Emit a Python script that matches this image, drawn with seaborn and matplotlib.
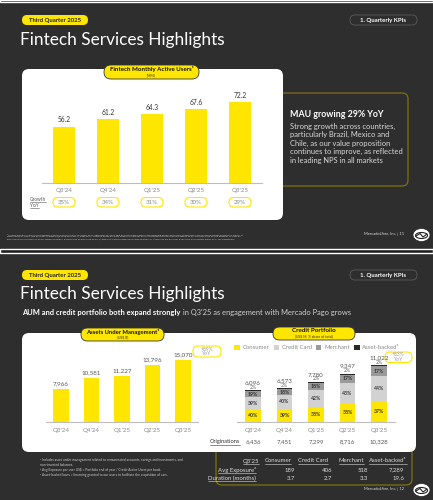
import numpy as np
import pandas as pd
import seaborn as sns
import matplotlib.pyplot as plt
from matplotlib.patches import FancyBboxPatch, Ellipse, Patch, Rectangle

# data
quarters = ["Q3'24", "Q4'24", "Q1'25", "Q2'25", "Q3'25"]
mau = [56.2, 61.2, 64.3, 67.6, 72.2]
mau_growth = ["35%", "34%", "31%", "30%", "29%"]
aum = [7966, 10581, 11227, 13796, 15070]
credit_total = [6096, 6573, 7780, 9347, 11022]
consumer_pct = [40, 39, 38, 38, 37]
card_pct = [39, 40, 42, 43, 44]
merchant_pct = [19, 18, 18, 17, 17]
asset_pct = [2, 2, 2, 2, 2]
originations = [6436, 7451, 7299, 8716, 10328]
table_cols = ["Q3'25", "Consumer", "Credit Card", "Merchant", "Asset-backed³"]
table_rows = ["Avg Exposure²", "Duration (months)"]
avg_exposure = ["189", "406", "518", "7,289"]
duration = ["3.7", "2.7", "3.3", "19.6"]

YEL = '#ffe600'
BG = '#2e2e2e'
GOLD = '#7f7014'
CC = '#d2d2d2'
MER = '#9a9a9a'
ASB = '#262626'

sns.set_theme(style='white')
plt.rcParams['font.family'] = ['Lato', 'DejaVu Sans']

W, H = 433, 500
fig = plt.figure(figsize=(W / 100, H / 100), dpi=100, facecolor=BG)
bg = fig.add_axes([0, 0, 1, 1])
bg.set_xlim(0, W)
bg.set_ylim(H, 0)
bg.axis('off')


def box(x0, y0, x1, y1, fc, ec='none', lw=0, r=4, z=1):
    bg.add_patch(FancyBboxPatch((x0, y0), x1 - x0, y1 - y0,
                                boxstyle=f'round,pad=0,rounding_size={r}',
                                fc=fc, ec=ec, lw=lw, zorder=z))


def pix_axes(x0, y0, x1, y1):
    ax = fig.add_axes([x0 / W, 1 - y1 / H, (x1 - x0) / W, (y1 - y0) / H])
    ax.patch.set_alpha(0)
    for s in ['top', 'right', 'left']:
        ax.spines[s].set_visible(False)
    ax.spines['bottom'].set_color('#bdbdbd')
    ax.spines['bottom'].set_linewidth(0.8)
    ax.set_yticks([])
    ax.set_xlabel('')
    ax.set_ylabel('')
    return ax


def centers(ax, n):
    # x pixel of each category from the axis' own scale
    pts = ax.transData.transform([(i, 0) for i in range(n)])
    return bg.transData.inverted().transform(pts)[:, 0]


renderer = fig.canvas.get_renderer()


def underline(t, color, lw=0.4):
    bb = t.get_window_extent(renderer)
    (xa, ya), (xb, yb) = bg.transData.inverted().transform([(bb.x0, bb.y0), (bb.x1, bb.y1)])
    bg.plot([xa, xb], [ya + 0.3, ya + 0.3], color=color, lw=lw, zorder=5)


# dark strips
bg.add_patch(Rectangle((0, 0), W, 2, fc='#1f1f1f', zorder=0))
bg.add_patch(Rectangle((0, 249), W, 4, fc='#1f1f1f', zorder=0))


def header(dy, page):
    box(22, 15 + dy, 88, 25 + dy, YEL, r=5)
    bg.text(55, 20.3 + dy, 'Third Quarter 2025', ha='center', va='center',
            fontsize=4.3, fontweight='bold', color='#222')
    box(350, 15 + dy, 417, 25 + dy, BG, ec='#5a5a5a', lw=0.6, r=5)
    bg.text(383.5, 20.3 + dy, '1. Quarterly KPIs', ha='center', va='center',
            fontsize=4.3, fontweight='bold', color='white')
    bg.text(20, 39.5 + dy, 'Fintech Services Highlights', ha='left', va='center',
            fontsize=12.4, color='white')
    bg.text(404, 234 + dy, f'MercadoLibre, Inc. | {page}', ha='right', va='center',
            fontsize=2.9, color='#dddddd')
    bg.add_patch(Ellipse((421.5, 235 + dy), 17, 13, fc='white', ec='#222', lw=0.5, zorder=3))
    bg.add_patch(Ellipse((421.5, 235.5 + dy), 12, 6, fc='none', ec='#222', lw=0.8, zorder=4))
    bg.plot([416, 420, 423, 427], [236 + dy, 233.5 + dy, 237 + dy, 234 + dy],
            color='#222', lw=0.8, zorder=5)


# ---------------- slide 1 ----------------
header(0, 11)
box(270, 93, 408, 186, BG, ec=GOLD, lw=0.9, r=6, z=1)
box(22, 69, 283, 220, 'white', r=7, z=2)
box(104, 65, 199, 79, YEL, ec='#333', lw=0.6, r=7, z=3)
bg.text(151.5, 69.5, 'Fintech Monthly Active Users¹', ha='center', va='center',
        fontsize=4.4, fontweight='bold', color='#111', zorder=4)
bg.text(151.5, 75, '(MM)', ha='center', va='center', fontsize=2.6, color='#333', zorder=4)

bg.text(290, 114.5, 'MAU growing 29% YoY', fontsize=6.4, fontweight='bold',
        color='white', va='center')
bg.text(290, 123, 'Strong growth across countries,\nparticularly Brazil, Mexico and\n'
        'Chile, as our value proposition\ncontinues to improve, as reflected\n'
        'in leading NPS in all markets', fontsize=5.4, color='#d9d9d9',
        va='top', linespacing=1.22)

ax1 = pix_axes(42, 90, 262, 183)
sns.barplot(x=quarters, y=mau, color=YEL, saturation=1, width=0.48,
            linewidth=0, ax=ax1)
ax1.set_ylim(20, 80)
ax1.set_xlim(-0.5, 4.5)
ax1.set_yticks([])
ax1.set_xlabel('')
ax1.bar_label(ax1.containers[0], labels=[f'{v:.1f}' for v in mau], padding=2.5,
              fontsize=4.8, color='#333')
ax1.tick_params(axis='x', length=0, pad=3.5, labelsize=4.5, labelcolor='#8a8a8a')

t = bg.text(30, 199.5, 'Growth', fontsize=3.4, color='#555', va='center', zorder=4)
underline(t, '#555')
t = bg.text(30, 205.5, 'YoY', fontsize=3.4, color='#555', va='center', zorder=4)
underline(t, '#555')
for px, g in zip(centers(ax1, len(quarters)), mau_growth):
    box(px - 11, 197.5, px + 11, 207, 'white', ec=YEL, lw=0.8, r=4.7, z=3)
    bg.text(px, 202.3, g, ha='center', va='center', fontsize=4.4, color='#888', zorder=4)

foot1 = ('¹ Fintech monthly active users is defined as Fintech payers and/or collectors as of September 30, 2025, that during the last month of the reporting period, performed at least one of the following actions during such month: 1)\n'
         'make a debit or credit card payment, 2) made a QR code payment, 3) made an off-platform online payment using our checkout on link of payment solutions while logged in to our Mercado Pago fintech platform, 4) made an\n'
         'investment or employed any of our savings solutions, 5) purchased an insurance policy, 6) took out a loan through our lending solution, or 7) received the payment from a sale a transaction either on or off marketplace.')
bg.text(7, 236.5, foot1, fontsize=1.75, color='#cfcfcf', va='center', linespacing=1.2)

# ---------------- slide 2 ----------------
header(255, 12)
t1 = bg.text(22.5, 312, 'AUM and credit portfolio both expand strongly', fontsize=5.4,
             fontweight='bold', color='white', va='center')
bg.annotate(" in Q3'25 as engagement with Mercado Pago grows", xy=(1, 0.5),
            xycoords=t1, va='center', ha='left', fontsize=5.4, color='#cfcfcf')

box(216, 420, 412, 485, BG, ec=GOLD, lw=0.9, r=6, z=1)
box(22, 333, 416, 452, 'white', r=7, z=2)

box(81, 328, 164, 341, YEL, ec='#333', lw=0.6, r=6.5, z=3)
bg.text(122.5, 332.3, 'Assets Under Management¹', ha='center', va='center',
        fontsize=4.2, fontweight='bold', color='#111', zorder=4)
bg.text(122.5, 337.5, '(US$ B)', ha='center', va='center', fontsize=2.5, color='#333', zorder=4)
box(273, 327, 355, 340, YEL, ec='#333', lw=0.6, r=6.5, z=3)
bg.text(314, 331, 'Credit Portfolio', ha='center', va='center',
        fontsize=4.5, fontweight='bold', color='#111', zorder=4)
bg.text(314, 336.5, '(US$ M, % share of total)', ha='center', va='center',
        fontsize=2.5, color='#333', zorder=4)

# AUM
ax2 = pix_axes(45.75, 345, 198.25, 422)
sns.barplot(x=quarters, y=aum, color=YEL, saturation=1, width=0.5, linewidth=0, ax=ax2)
ax2.set_ylim(0, 18700)
ax2.set_xlim(-0.5, 4.5)
ax2.set_yticks([])
ax2.bar_label(ax2.containers[0], labels=[f'{v:,}' for v in aum], padding=2,
              fontsize=4.5, color='#555')
ax2.tick_params(axis='x', length=0, pad=4, labelsize=4.5, labelcolor='#8a8a8a')
box(193, 346, 221, 357, 'white', ec=YEL, lw=0.8, r=5, z=3)
bg.text(207, 351.5, '+89%\nYoY', ha='center', va='center', fontsize=3.6,
        color='#999', linespacing=0.95, zorder=4)

# Credit portfolio (stacked through cumulative layers)
credit = pd.DataFrame({'quarter': quarters, 'total': credit_total,
                       'Consumer': consumer_pct, 'Credit Card': card_pct,
                       'Merchant': merchant_pct, 'Asset-backed': asset_pct})
segs = ['Consumer', 'Credit Card', 'Merchant', 'Asset-backed']
seg_colors = [YEL, CC, MER, ASB]
cum = credit[segs].cumsum(axis=1).mul(credit['total'], axis=0) / 100

ax3 = pix_axes(237.25, 355, 394.75, 422)
for s, c in zip(segs[::-1], seg_colors[::-1]):
    sns.barplot(x=credit['quarter'], y=cum[s], color=c, saturation=1, width=0.48,
                linewidth=0, ax=ax3)
ax3.set_ylim(0, 12960)
ax3.set_xlim(-0.5, 4.5)
ax3.set_yticks([])
ax3.set_xlabel('')
ax3.set_ylabel('')
ax3.tick_params(axis='x', length=0, pad=4, labelsize=4.5, labelcolor='#8a8a8a')

for i, row in credit.iterrows():
    lo = 0
    for s in segs[:3]:
        hi = cum.loc[i, s]
        ax3.text(i, (lo + hi) / 2, f'{row[s]}%', ha='center', va='center',
                 fontsize=3.7, fontweight='bold', color='#333')
        lo = hi
    top = cum.loc[i, 'Asset-backed']
    ax3.annotate(f"{row['Asset-backed']}%", xy=(i, top), xytext=(0, 3),
                 textcoords='offset pixels', ha='center', va='center',
                 fontsize=3.7, color='#666')
    ax3.annotate(f"{row['total']:,}", xy=(i, top), xytext=(0, 7.5),
                 textcoords='offset pixels', ha='center', va='center',
                 fontsize=4.5, color='#555')

handles = [Patch(fc=c, ec='none') for c in seg_colors]
ax3.legend(handles, ['Consumer', 'Credit Card', 'Merchant', 'Asset-backed³'], ncol=4,
           loc='center', bbox_to_anchor=(317 / W, 1 - 347.5 / H),
           bbox_transform=fig.transFigure, frameon=False, fontsize=4.3,
           handlelength=0.9, handleheight=0.9, handletextpad=0.45,
           columnspacing=0.75, labelcolor='#8a8a8a')

box(385, 352, 412, 362.5, 'white', ec=YEL, lw=0.8, r=5, z=3)
bg.text(398.5, 357.3, '+83%\nYoY', ha='center', va='center', fontsize=3.6,
        color='#999', linespacing=0.95, zorder=4)

t = bg.text(240, 442, 'Originations', ha='right', va='center', fontsize=4.1,
            color='#333', zorder=4)
underline(t, '#333')
for px, v in zip(centers(ax3, len(quarters)), originations):
    bg.text(px, 442, f'{v:,}', ha='center', va='center', fontsize=4.3,
            color='#555', zorder=4)

# table
col_x = [251, 278, 312.5, 351.5, 388]
for x, c in zip(col_x, table_cols):
    t = bg.text(x, 461, c, ha='center', va='center', fontsize=4.3, color='#dddddd')
    underline(t, '#dddddd')
val_x = [295, 332, 368, 404]
for y, lab, vals in zip([470, 478.5], table_rows, [avg_exposure, duration]):
    t = bg.text(256, y, lab, ha='right', va='center', fontsize=4.3, color='#dddddd')
    underline(t, '#dddddd')
    for x, v in zip(val_x, vals):
        bg.text(x, y, v, ha='right', va='center', fontsize=4.3, color='#dddddd')

foot2 = ('¹ Includes asset under management related to remunerated accounts, savings and investments, and\n'
         'non-invested balances.\n'
         '² Avg Exposure per user US$ = Portfolio end of year / Credit Active Users per book.\n'
         '³ Asset-backed loans = financing granted to our users to facilitate the acquisition of cars.')
bg.text(40, 467.5, foot2, fontsize=2.35, color='#cfcfcf', va='center', linespacing=1.25)

fig.savefig('out.png', dpi=100, facecolor=BG)
